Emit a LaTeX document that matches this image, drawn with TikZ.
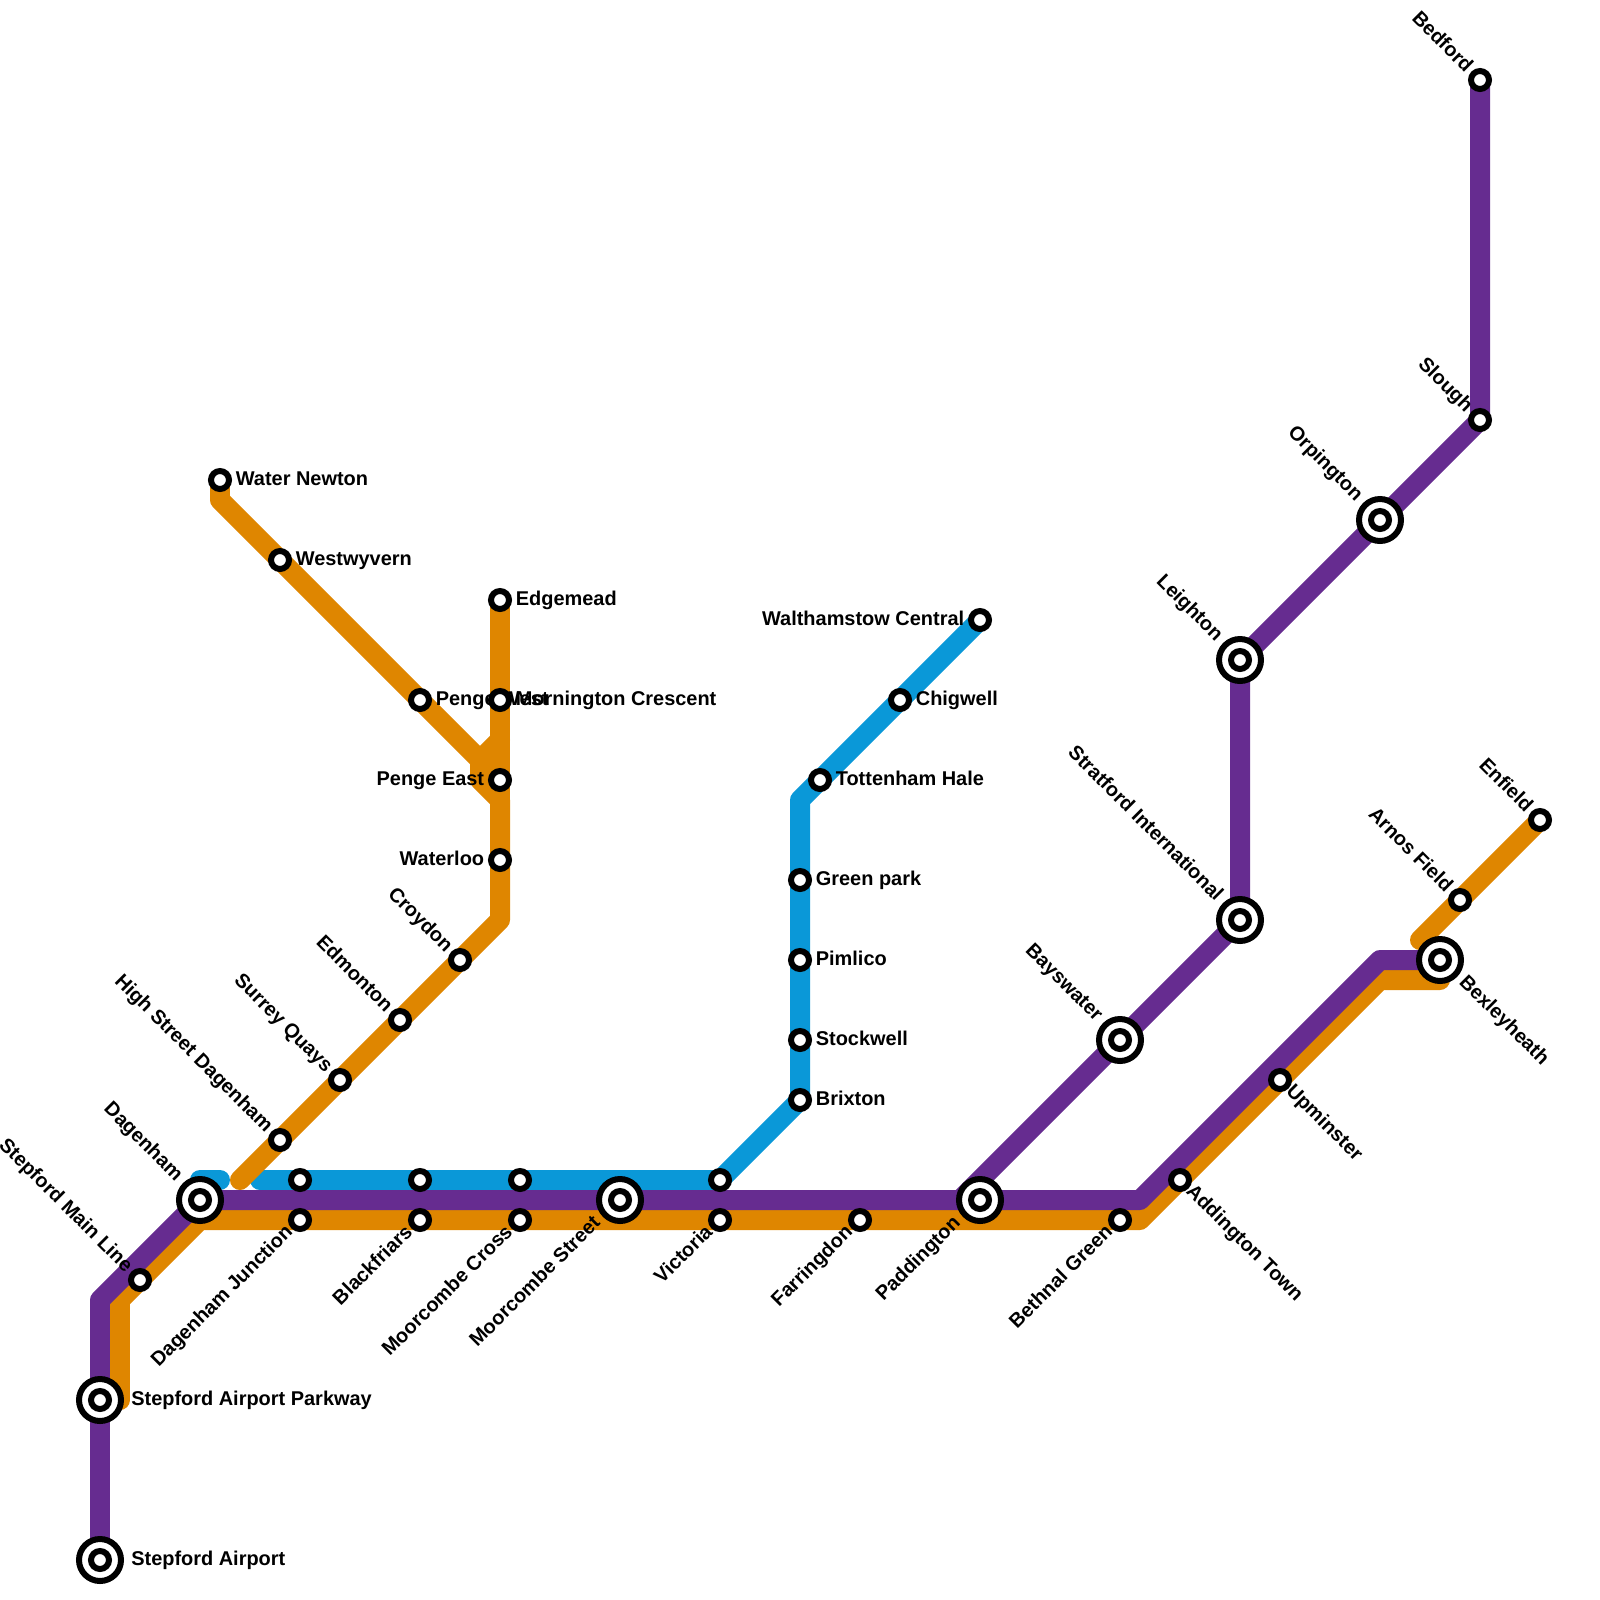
\documentclass[tikz,border=0pt]{standalone}
\usepackage{fontspec}
\setmainfont{Liberation Sans}
\usetikzlibrary{backgrounds}
\definecolor{linepurple}{HTML}{662C90}
\definecolor{lineorange}{HTML}{DF8600}
\definecolor{lineblue}{HTML}{0A98D8}
\tikzset{
	metro/.style={line width=0.4cm, line cap=round, line join=round},
	stn/.style={circle, draw=black, fill=white, line width=0.12cm, inner sep=0pt, outer sep=0pt, minimum size=0.36cm},
	stnbig/.style={stn, minimum size=0.84cm},
	lbl/.style={inner sep=0pt, text height=7.8pt, text depth=2.4pt, font=\fontsize{11.35}{13}\selectfont\bfseries, text=black},
	onright/.style={lbl, anchor=west, xshift=0.31cm, yshift=-0.02cm},
	onleft/.style={lbl, anchor=east, xshift=-0.31cm, yshift=-0.02cm},
	upleft/.style={lbl, anchor=east, rotate=-45, xshift=-0.3cm, yshift=-0.02cm},
	downleft/.style={lbl, anchor=east, rotate=45, xshift=-0.27cm},
	downright/.style={lbl, anchor=west, rotate=-45, xshift=0.24cm},
	bigright/.style={onright, xshift=0.31cm},
	bigupleft/.style={upleft, xshift=-0.3cm, yshift=0.02cm},
	bigdownleft/.style={downleft, xshift=-0.33cm, yshift=0.02cm},
	bigdownright/.style={downright, xshift=0.34cm, yshift=0.03cm}
}
\begin{document}
\begin{tikzpicture}[x=0.02cm, y=-0.02cm]
	\useasboundingbox (0,0) rectangle (1600,1600);
	% petites stations
	\foreach \id/\x/\y/\txt/\sty in {
		waternewton/220/480/Water Newton/onright,
		westwyvern/280/560/Westwyvern/onright,
		pengewest/420/700/Penge West/onright,
		edgemead/500/600/Edgemead/onright,
		mornington/500/700/Mornington Crescent/onright,
		pengeeast/500/780/Penge East/onleft,
		waterloo/500/860/Waterloo/onleft,
		croydon/460/960/Croydon/upleft,
		edmonton/400/1020/Edmonton/upleft,
		surreyquays/340/1080/Surrey Quays/upleft,
		highstreet/280/1140/High Street Dagenham/upleft,
		mainline/140/1280/Stepford Main Line/upleft,
		junctiontop/300/1180//onright,
		junction/300/1220/Dagenham Junction/downleft,
		blackfriarstop/420/1180//onright,
		blackfriars/420/1220/Blackfriars/downleft,
		crosstop/520/1180//onright,
		cross/520/1220/Moorcombe Cross/downleft,
		victoriatop/720/1180//onright,
		victoria/720/1220/Victoria/downleft,
		farringdon/860/1220/Farringdon/downleft,
		bethnal/1120/1220/Bethnal Green/downleft,
		addington/1180/1180/Addington Town/downright,
		upminster/1280/1080/Upminster/downright,
		brixton/800/1100/Brixton/onright,
		stockwell/800/1040/Stockwell/onright,
		pimlico/800/960/Pimlico/onright,
		greenpark/800/880/Green park/onright,
		tottenham/820/780/Tottenham Hale/onright,
		chigwell/900/700/Chigwell/onright,
		walthamstow/980/620/Walthamstow Central/onleft,
		arnos/1460/900/Arnos Field/upleft,
		enfield/1540/820/Enfield/upleft,
		slough/1480/420/Slough/upleft,
		bedford/1480/80/Bedford/upleft}
		{\node[\sty] (\id-lbl) at (\x,\y) {\txt};
		\node[stn] (\id) at (\x,\y) {};}
	% grandes stations
	\foreach \id/\x/\y/\txt/\sty in {
		airport/100/1560/Stepford Airport/bigright,
		parkway/100/1400/Stepford Airport Parkway/bigright,
		dagenham/200/1200/Dagenham/bigupleft,
		moorcombe/620/1200/Moorcombe Street/bigdownleft,
		paddington/980/1200/Paddington/bigdownleft,
		bayswater/1120/1040/Bayswater/bigupleft,
		stratford/1240/920/Stratford International/bigupleft,
		leighton/1240/660/Leighton/bigupleft,
		orpington/1380/520/Orpington/bigupleft,
		bexleyheath/1440/960/Bexleyheath/bigdownright}
		{\node[\sty] (\id-lbl) at (\x,\y) {\txt};
		\node[stnbig] (\id) at (\x,\y) {};
		\node[stn] (\id-in) at (\x,\y) {};}
	% coudes des lignes
	\coordinate (p1) at (100,1300);
	\coordinate (p2) at (960,1200);
	\coordinate (p3) at (1140,1200);
	\coordinate (p4) at (1380,960);
	\coordinate (o1) at (120,1300);
	\coordinate (o2) at (200,1220);
	\coordinate (o3) at (1140,1220);
	\coordinate (o4) at (1380,980);
	\coordinate (o5) at (1440,980);
	\coordinate (o6) at (1420,940);
	\coordinate (o7) at (120,1400);
	\coordinate (o8) at (220,500);
	\coordinate (o9) at (480,760);
	\coordinate (o10) at (480,780);
	\coordinate (o11) at (500,800);
	\coordinate (o12) at (500,920);
	\coordinate (o13) at (240,1180);
	\coordinate (o14) at (500,740);
	\coordinate (b1) at (220,1180);
	\coordinate (b2) at (260,1180);
	\coordinate (b3) at (800,800);
	\begin{scope}[on background layer]
		% bleu
		\draw[metro, lineblue] (dagenham.center |- b1) -- (b1);
		\draw[metro, lineblue] (b2) -- (victoriatop.center) -- (brixton.center) -- (b3) -- (walthamstow.center);
		% orange
		\draw[metro, lineorange] (o7) -- (o1) -- (o2) -- (o3) -- (o4) -- (o5);
		\draw[metro, lineorange] (enfield.center) -- (o6);
		\draw[metro, lineorange] (waternewton.center) -- (o8) -- (o9) -- (o10) -- (o11) -- (o12) -- (o13);
		\draw[metro, lineorange] (edgemead.center) -- (o11);
		\draw[metro, lineorange] (o14) -- (o9);
		% violet
		\draw[metro, linepurple] (airport.center) -- (p1) -- (dagenham.center) -- (p2) -- (stratford.center) -- (leighton.center) -- (slough.center) -- (bedford.center);
		\draw[metro, linepurple] (paddington.center) -- (p3) -- (p4) -- (bexleyheath.center);
	\end{scope}
\end{tikzpicture}
\end{document}
